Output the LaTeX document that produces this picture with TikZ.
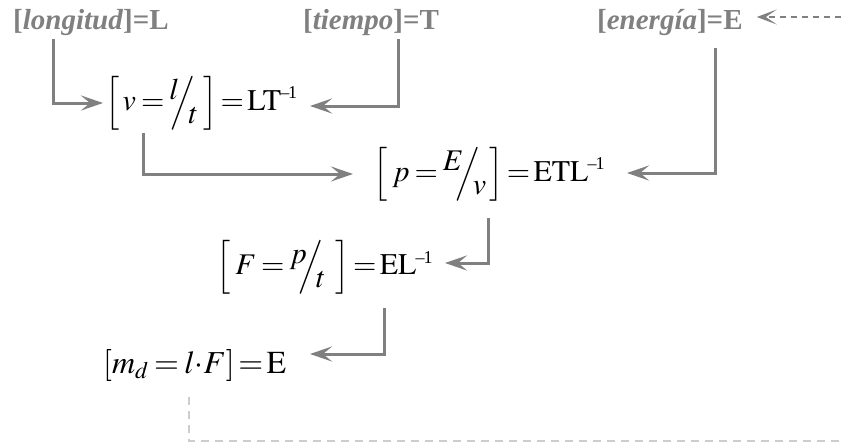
\documentclass[tikz,border=0pt]{standalone}
\usepackage{mathptmx}
\usepackage{fontspec}
\setmainfont{Liberation Serif}
\usetikzlibrary{arrows.meta}
\definecolor{arrgray}{RGB}{128,128,128}
\definecolor{lightdash}{RGB}{205,205,205}
\newcommand\slfr[2]{\raisebox{0.38em}{$#1$}\kern-0.28em\Big/\kern-0.22em\raisebox{-0.42em}{$#2$}}
\newcommand\tightrel{\thickmuskip=3mu\relax}
\newcommand\eqs{\mskip2mu{=}\mskip2mu}
\newcommand\invsup{^{\hbox{\fontsize{18}{20}\selectfont\kern-0.05em–\kern-0.06em1}}}
\begin{document}
\begin{tikzpicture}[x=1pt,y=-1pt,
  lab/.style={anchor=base west,inner sep=0pt,text=arrgray,font=\fontsize{29}{32}\selectfont\bfseries},
  fm/.style={anchor=west,inner sep=0pt,font=\fontsize{30}{36}\selectfont},
  arr/.style={draw=arrgray,line width=3pt,-{Stealth[length=22pt,width=15pt,inset=9pt]}},
  dsharr/.style={draw=arrgray,line width=1.4pt,dash pattern=on 6pt off 5pt,-{Stealth[length=20pt,width=15pt,inset=11pt]}},
  dshline/.style={draw=lightdash,line width=1.5pt,dash pattern=on 8pt off 6pt}]
\useasboundingbox[fill=white] (0,0) rectangle (841,444);
% top labels
\node[lab] (lon) at (13,30) {[\textit{longitud}]=L};
\node[lab] (tie) at (303,30) {[\textit{tiempo}]=T};
\node[lab] (ene) at (597,30) {[\textit{energía}]=E};
% formulas
\node[fm] (v) at (105,103) {$\tightrel\Big[\,v=\slfr{l}{t}\;\Big]\eqs\mathrm{LT}\invsup$};
\node[fm] (p) at (373,174) {$\tightrel\Big[\;p=\slfr{E}{v}\,\Big]\eqs\mathrm{ETL}\invsup$};
\node[fm] (F) at (216,267) {$\tightrel\Big[\;F=\slfr{p}{t}\;\;\Big]\eqs\mathrm{EL}\invsup$};
\node[fm,font=\fontsize{32}{36}\selectfont] (m) at (103,365) {$\tightrel[m_d=l{\cdot}F]\eqs\mathrm{E}$};
\coordinate (tr) at (841,17);
\coordinate (br) at (841,441);
% connectors
\draw[arr] ([xshift=40pt,yshift=-3pt]lon.south west) |- ([xshift=-2pt]v.west);
\draw[arr] ([xshift=95pt,yshift=-3pt]tie.south west) |- ([xshift=205pt,yshift=-3pt]v.west);
\draw[arr] ([xshift=38pt,yshift=-30pt]v.west) |- ([xshift=-20pt]p.west);
\draw[arr] ([xshift=118pt,yshift=-12pt]ene.south west) |- ([xshift=254pt,yshift=1pt]p.west);
\draw[arr] ([xshift=115pt,yshift=-44pt]p.west) |- ([xshift=229pt,yshift=4pt]F.west);
\draw[arr] ([xshift=168pt,yshift=-41pt]F.west) |- ([xshift=207pt,yshift=11pt]m.west);
\draw[dsharr] (tr) -- ([xshift=14pt]ene.east |- tr);
\draw[dshline] ([xshift=86pt,yshift=-32pt]m.west) |- (br);
\end{tikzpicture}
\end{document}
